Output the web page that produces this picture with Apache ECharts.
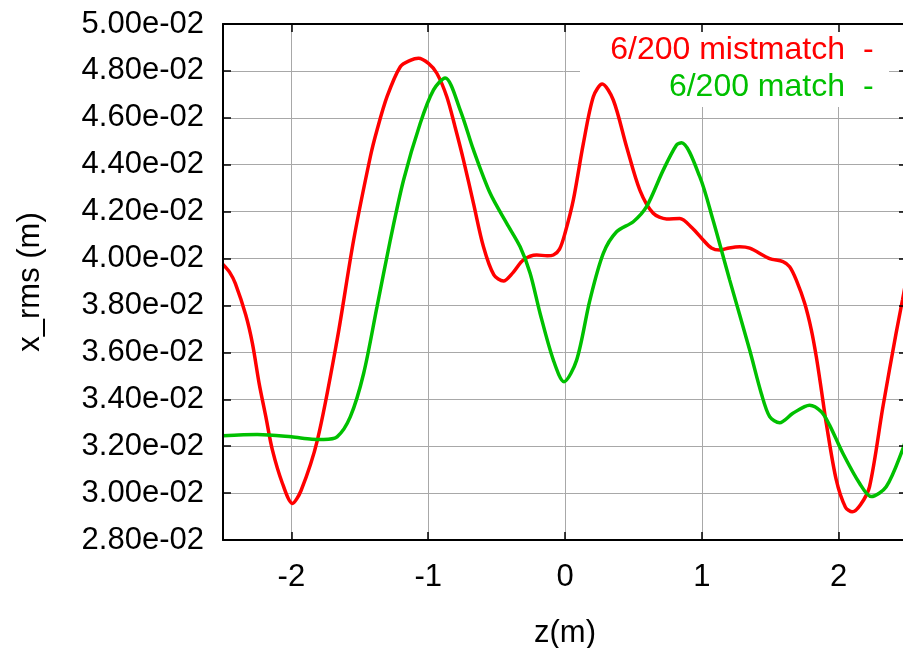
<!DOCTYPE html>
<html>
<head>
<meta charset="utf-8">
<script src="https://cdn.jsdelivr.net/npm/echarts@6/dist/echarts.min.js"></script>
<style>
html,body{margin:0;padding:0;background:#fff;}
#c{width:903px;height:648px;}
</style>
</head>
<body>
<div id="c"></div>
<script>
var seriesNames = ['6/200 mistmatch', '6/200 match'];
var xLabel = 'z(m)';
var yLabel = 'x_rms (m)';

var redZ = [-2.5,-2.45,-2.41,-2.334,-2.285,-2.236,-2.187,-2.139,-2.066,-1.993,-1.93,-1.81,-1.666,-1.545,-1.423,-1.374,-1.301,-1.204,-1.131,-1.071,-0.998,-0.937,-0.864,-0.803,-0.742,-0.669,-0.596,-0.52,-0.45,-0.38,-0.304,-0.207,-0.13,-0.085,-0.04,0,0.061,0.134,0.207,0.272,0.353,0.45,0.547,0.645,0.742,0.839,0.93,1.01,1.07,1.131,1.2,1.277,1.35,1.496,1.593,1.642,1.691,1.752,1.801,1.837,1.874,1.91,1.983,2.05,2.1,2.16,2.226,2.324,2.42,2.467,2.5];
var redV = [0.03975,0.03940,0.03894,0.03760,0.03638,0.03468,0.03326,0.03184,0.03042,0.02956,0.03010,0.03226,0.03653,0.04079,0.04434,0.04548,0.04690,0.04818,0.04845,0.04854,0.04832,0.04790,0.04690,0.04560,0.04420,0.04235,0.04050,0.03930,0.03904,0.03940,0.03994,0.04015,0.04012,0.04015,0.04040,0.04108,0.04250,0.04490,0.04690,0.04744,0.04676,0.04477,0.04292,0.04193,0.04169,0.04171,0.04130,0.04079,0.04045,0.04036,0.04045,0.04050,0.04044,0.04000,0.03987,0.03965,0.03908,0.03809,0.03695,0.03581,0.03440,0.03297,0.03056,0.02940,0.02920,0.02950,0.03027,0.03368,0.03681,0.03823,0.03930];

var greenZ = [-2.5,-2.25,-2.0,-1.85,-1.764,-1.666,-1.569,-1.472,-1.374,-1.277,-1.18,-1.058,-0.961,-0.876,-0.766,-0.669,-0.547,-0.426,-0.328,-0.255,-0.182,-0.085,-0.007,0.085,0.182,0.28,0.377,0.499,0.596,0.718,0.815,0.852,0.985,1.082,1.204,1.35,1.435,1.496,1.569,1.666,1.788,1.874,1.934,2.031,2.153,2.239,2.348,2.467,2.5];
var greenV = [0.03245,0.03250,0.03240,0.03230,0.03229,0.03240,0.03326,0.03510,0.03795,0.04079,0.04335,0.04577,0.04719,0.04770,0.04633,0.04463,0.04278,0.04150,0.04050,0.03937,0.03766,0.03567,0.03475,0.03567,0.03823,0.04022,0.04114,0.04157,0.04221,0.04377,0.04484,0.04494,0.04349,0.04164,0.03908,0.03610,0.03425,0.03326,0.03300,0.03340,0.03375,0.03347,0.03290,0.03170,0.03042,0.02985,0.03027,0.03184,0.03250];

var xMin = -2.5, xMax = 2.5;
var yMin = 0.028, yMax = 0.050, yStep = 0.002;

function pair(xs, ys){ var d=[]; for(var i=0;i<xs.length;i++) d.push([xs[i], ys[i]]); return d; }
function fmtE(v){
  var s = Number(v).toExponential(2);
  var p = s.split('e');
  var sign = p[1].charAt(0) === '-' ? '-' : '+';
  var e = Math.abs(parseInt(p[1],10));
  return p[0] + 'e' + sign + (e < 10 ? '0' + e : '' + e);
}
var FONT = 'Liberation Sans';
var txt = {color:'#000', fontSize:31, fontFamily:FONT};

var chart = echarts.init(document.getElementById('c'), null, {renderer:'canvas'});
chart.setOption({
  animation:false,
  backgroundColor:'#fff',
  grid:{left:223, top:24, width:684, height:516, containLabel:false, outerBoundsMode:'none'},
  xAxis:[{
    type:'value', min:xMin, max:xMax, position:'bottom', z:3,
    name:xLabel, nameLocation:'middle', nameGap:78, nameTextStyle:txt,
    axisLine:{show:true, onZero:false, lineStyle:{color:'#000', width:2}},
    axisTick:{show:true, inside:true, length:8, lineStyle:{color:'#000', width:1.5}},
    axisLabel:Object.assign({margin:22, showMinLabel:false, showMaxLabel:false}, txt),
    splitLine:{show:false}
  },{
    type:'value', min:xMin, max:xMax, position:'top', z:3,
    axisLine:{show:true, onZero:false, lineStyle:{color:'#000', width:2}},
    axisTick:{show:true, inside:true, length:8, lineStyle:{color:'#000', width:1.5}},
    axisLabel:{show:false},
    splitLine:{show:false}
  },{
    type:'value', min:xMin, max:xMax, gridIndex:0, z:0, show:true, position:'bottom',
    axisLine:{show:false}, axisTick:{show:false}, axisLabel:{show:false},
    splitLine:{show:true, lineStyle:{color:'#a8a8a8', width:1}}
  }],
  yAxis:[{
    type:'value', min:yMin, max:yMax, interval:yStep, position:'left', z:3,
    name:yLabel, nameLocation:'middle', nameGap:177, nameRotate:90, nameTextStyle:txt,
    axisLine:{show:true, onZero:false, lineStyle:{color:'#000', width:2}},
    axisTick:{show:true, inside:true, length:8, lineStyle:{color:'#000', width:1.5}},
    axisLabel:Object.assign({margin:19, formatter:fmtE}, txt),
    splitLine:{show:false}
  },{
    type:'value', min:yMin, max:yMax, interval:yStep, position:'right', z:3,
    axisLine:{show:true, onZero:false, lineStyle:{color:'#000', width:2}},
    axisTick:{show:true, inside:true, length:8, lineStyle:{color:'#000', width:1.5}},
    axisLabel:{show:false},
    splitLine:{show:false}
  },{
    type:'value', min:yMin, max:yMax, interval:yStep, position:'left', z:0,
    axisLine:{show:false}, axisTick:{show:false}, axisLabel:{show:false},
    splitLine:{show:true, lineStyle:{color:'#a8a8a8', width:1}}
  }],
  graphic:[
    {type:'rect', z:1, shape:{x:580, y:25, width:309, height:82}, style:{fill:'#fff'}},
    {type:'text', z:5, right:903-845, top:34, style:{text:seriesNames[0], fill:'#ff0000', font:'32px "Liberation Sans"'}},
    {type:'text', z:5, left:863, top:34, style:{text:'-', fill:'#ff0000', font:'32px "Liberation Sans"'}},
    {type:'text', z:5, right:903-845, top:71, style:{text:seriesNames[1], fill:'#00c000', font:'32px "Liberation Sans"'}},
    {type:'text', z:5, left:863, top:71, style:{text:'-', fill:'#00c000', font:'32px "Liberation Sans"'}}
  ],
  series:[{
    name:seriesNames[0], type:'line', xAxisIndex:0, yAxisIndex:0, z:2,
    data:pair(redZ, redV), smooth:0.3, showSymbol:false, symbol:'none',
    lineStyle:{color:'#ff0000', width:3.5}
  },{
    name:seriesNames[1], type:'line', xAxisIndex:0, yAxisIndex:0, z:2,
    data:pair(greenZ, greenV), smooth:0.3, showSymbol:false, symbol:'none',
    lineStyle:{color:'#00c000', width:3.5}
  }]
});
</script>
</body>
</html>
